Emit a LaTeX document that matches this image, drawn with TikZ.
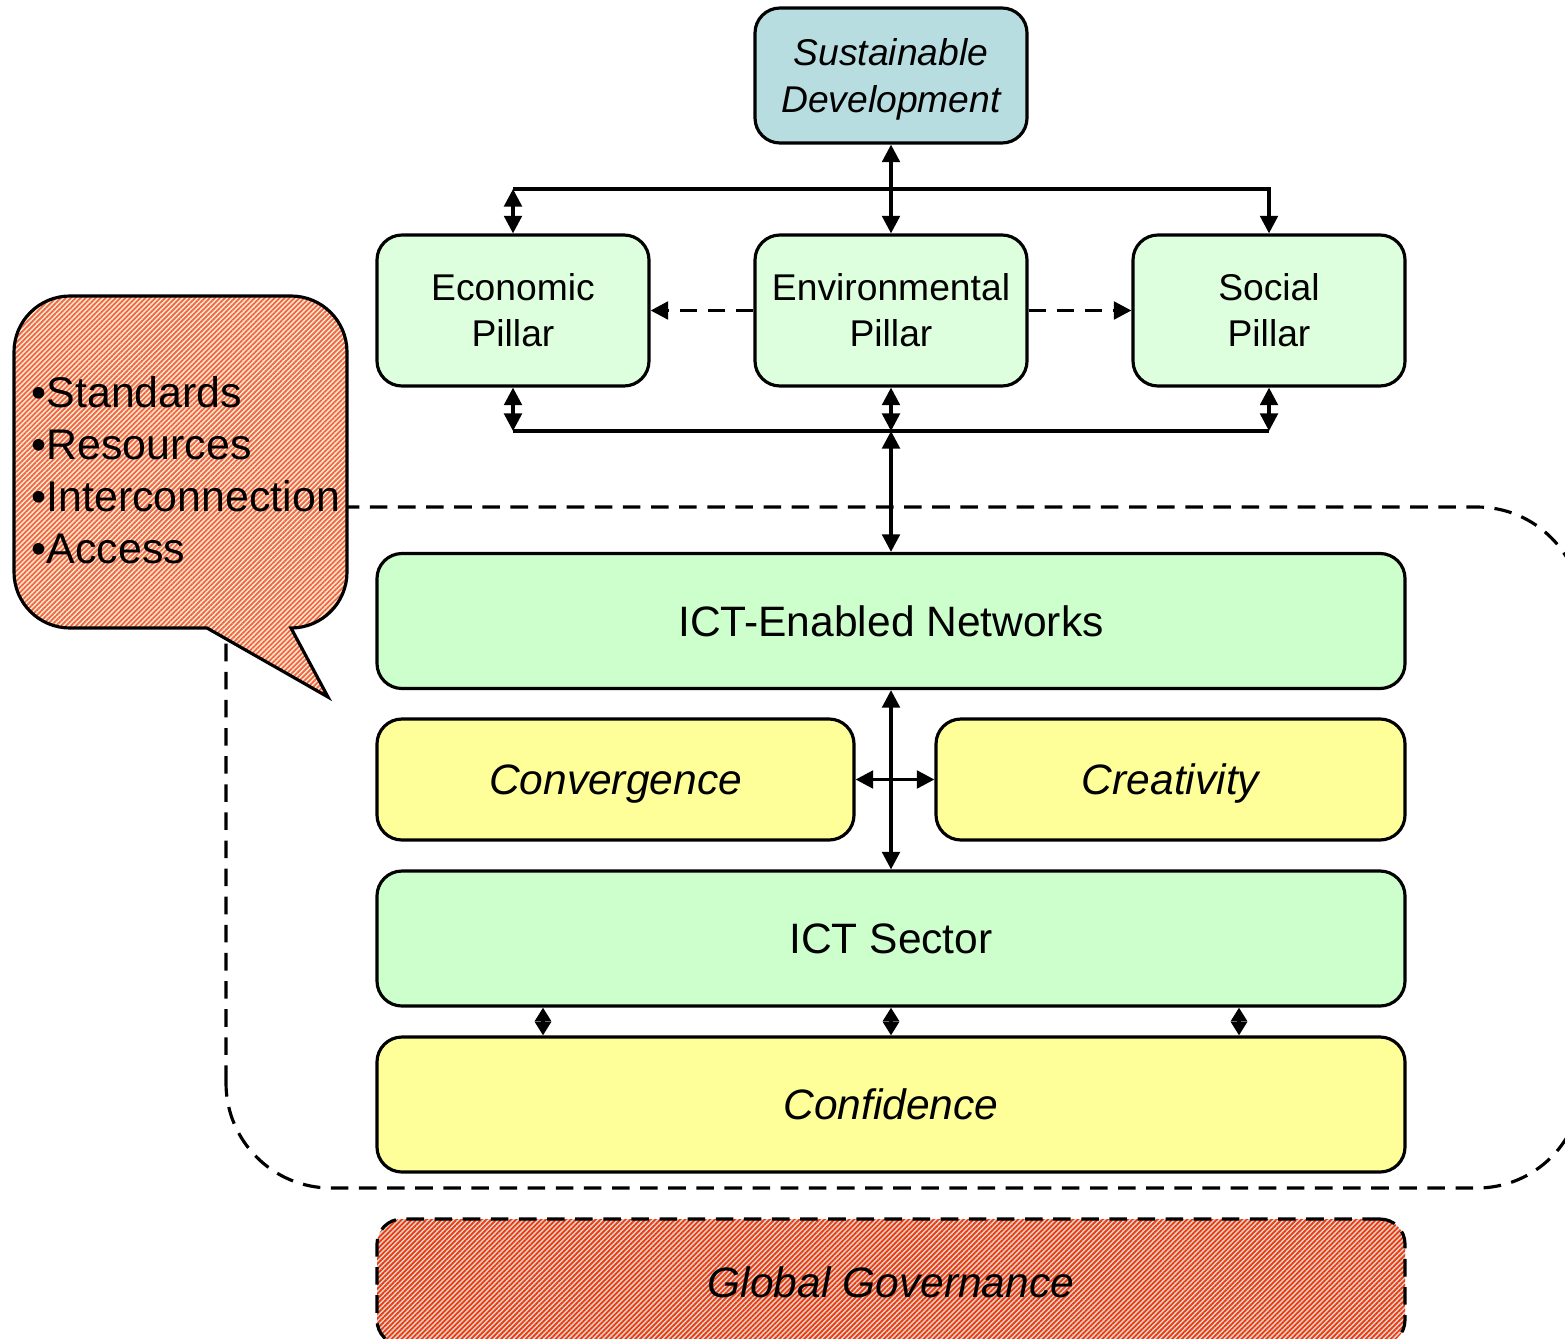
\documentclass[tikz,border=0pt]{standalone}
\usepackage{fontspec}
\setmainfont{Liberation Sans}
\usetikzlibrary{arrows.meta,patterns.meta}

\definecolor{sdblue}{RGB}{183,221,225}
\definecolor{pillargreen}{RGB}{221,255,221}
\definecolor{netgreen}{RGB}{204,255,204}
\definecolor{layeryellow}{RGB}{255,255,153}
\definecolor{calloutback}{RGB}{255,236,195}
\definecolor{calloutred}{RGB}{238,100,78}
\definecolor{govback}{RGB}{200,218,218}
\definecolor{govred}{RGB}{255,51,0}

\begin{document}
\begin{tikzpicture}[
        block/.style={rectangle, draw, line width=0.9pt, rounded corners=0.25cm, align=center, inner sep=0pt},
        pillar/.style={block, fill=pillargreen, minimum width=2.72cm, minimum height=1.51cm,
            font=\fontsize{10.6}{13.1}\selectfont},
        layer/.style={block, minimum width=10.28cm, minimum height=1.35cm,
            font=\fontsize{12.1}{14.4}\selectfont},
        arrow/.style={-{Triangle[length=5pt,width=5pt]}, line width=1pt},
        dblarrow/.style={{Triangle[length=5pt,width=5pt]}-{Triangle[length=5pt,width=5pt]}, line width=1pt},
        diam/.style={{Triangle[length=3.9pt,width=4.5pt]}-{Triangle[length=3.9pt,width=4.5pt]}, line width=1pt},
        dasharrow/.style={arrow, dash pattern=on 5pt off 3pt},
        hatched/.style={preaction={fill=#1back}, pattern={Lines[angle=45,distance=1pt,line width=0.5pt]}, pattern color=#1red}
    ]
        \useasboundingbox (0,0) rectangle (15.65,13.38);

        % Dashed frame round the ICT layers
        \draw[line width=0.9pt, dash pattern=on 5pt off 3pt, rounded corners=1.05cm] (2.26,1.50) rectangle (15.82,8.31);

        % Goal
        \node[block, fill=sdblue, minimum width=2.72cm, minimum height=1.35cm, text depth=0pt,
            font=\fontsize{10.6}{13.1}\selectfont\itshape] (sd) at (8.91,12.625) {Sustainable\\Development};

        % The three pillars
        \node[pillar] (econ) at (5.13,10.275) {Economic\\Pillar};
        \node[pillar] (env) at (8.91,10.275) {Environmental\\Pillar};
        \node[pillar] (social) at (12.69,10.275) {Social\\Pillar};

        % ICT layers
        \node[layer, fill=netgreen] (icten) at (8.91,7.17) {ICT-Enabled Networks};
        \node[layer, fill=layeryellow, minimum width=4.77cm, minimum height=1.21cm, text depth=0pt,
            font=\fontsize{12.1}{14.4}\selectfont\itshape] (conv) at (6.155,5.585) {Convergence};
        \node[layer, fill=layeryellow, minimum width=4.69cm, minimum height=1.21cm, text depth=0pt,
            font=\fontsize{12.1}{14.4}\selectfont\itshape] (creat) at (11.705,5.585) {Creativity};
        \node[layer, fill=netgreen] (sector) at (8.91,3.995) {ICT Sector};
        \node[layer, fill=layeryellow, font=\fontsize{12.1}{14.4}\selectfont\itshape] (conf) at (8.91,2.335) {Confidence};
        \node[layer, hatched=gov, dash pattern=on 5pt off 3pt, minimum height=1.26cm,
            font=\fontsize{12.1}{14.4}\selectfont\itshape] (gg) at (8.91,0.56) {Global Governance};

        % Speech bubble
        \draw[hatched=callout, draw, line width=0.9pt] (2.07,7.10) -- (0.70,7.10)
            arc[start angle=270, end angle=180, radius=0.56] -- (0.14,9.86)
            arc[start angle=180, end angle=90, radius=0.56] -- (2.91,10.42)
            arc[start angle=90, end angle=0, radius=0.56] -- (3.47,7.66)
            arc[start angle=0, end angle=-90, radius=0.56] -- (3.28,6.41) -- cycle;
        \node[anchor=west, align=left, inner sep=0pt, font=\fontsize{12.2}{14.8}\selectfont] (issues) at (0.31,8.68)
            {•Standards\\•Resources\\•Interconnection\\•Access};

        % Top connectors
        \coordinate (tl) at (5.13,11.49);
        \coordinate (tr) at (12.69,11.49);
        \draw[dblarrow] (sd.south) -- (env.north);
        \draw[arrow] (tl) -| (social.north);
        \draw[dblarrow] (tl) -- (econ.north);
        \draw[dasharrow] (env.west) -- (econ.east);
        \draw[dasharrow] (env.east) -- (social.west);

        % Bottom connectors
        \coordinate (bl) at (5.13,9.07);
        \coordinate (bm) at (8.91,9.07);
        \coordinate (br) at (12.69,9.07);
        \draw[line width=1pt] (bl) -- (br);
        \draw[dblarrow] (econ.south) -- (bl);
        \draw[dblarrow] (env.south) -- (bm);
        \draw[dblarrow] (social.south) -- (br);
        \draw[dblarrow] (bm) -- (icten.north);

        % Between the layers
        \draw[dblarrow] (icten.south) -- (sector.north);
        \draw[dblarrow] (conv.east) -- (creat.west);
        \foreach \dx in {-3.48,0,3.48}
            \draw[diam] ([xshift=\dx cm]sector.south) -- ([xshift=\dx cm]conf.north);
    \end{tikzpicture}
\end{document}
